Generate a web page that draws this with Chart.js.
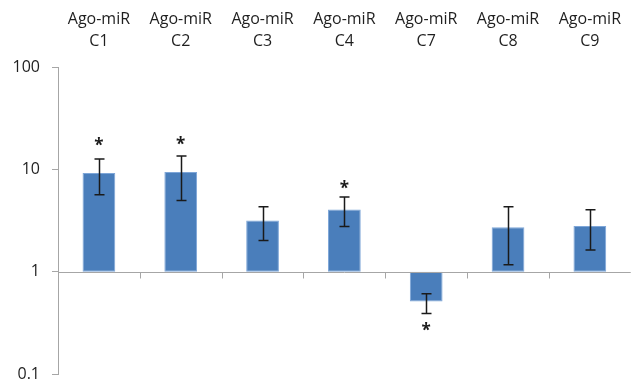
<!DOCTYPE html>
<html>
<head>
<meta charset="utf-8">
<script src="https://cdn.jsdelivr.net/npm/chart.js@4.4.1/dist/chart.umd.min.js"></script>
<style>
  html, body { margin: 0; padding: 0; background: #ffffff; }
  #wrap { width: 635px; height: 382px; position: relative; }
</style>
</head>
<body>
<div id="wrap"><canvas id="chart"></canvas></div>
<script>
// Dados (escala log, base em 1)
const categorias = [['Ago-miR', 'C1'], ['Ago-miR', 'C2'], ['Ago-miR', 'C3'], ['Ago-miR', 'C4'],
                    ['Ago-miR', 'C7'], ['Ago-miR', 'C8'], ['Ago-miR', 'C9']];
const valores   = [9.2, 9.4, 3.17, 4.05, 0.51, 2.71, 2.79];
const erroAlto  = [12.6, 13.5, 4.31, 5.36, 0.61, 4.31, 4.03];
const erroBaixo = [5.64, 4.96, 2.02, 2.77, 0.39, 1.17, 1.63];
// posição (em valor do eixo) dos asteriscos de significância; null = sem marca
const asteriscos = [18.3, 19.0, null, 7.06, 0.29, null, null];
const yTicks = [0.1, 1, 10, 100];

const corEixo = '#a6a6a6';
const corTexto = '#1f1f1f';

// barras flutuantes partindo de 1
const barras = valores.map(v => [1, v]);

// Plugin: linha base em y=1, barras de erro e asteriscos
const extras = {
    id: 'extras',
    afterDatasetsDraw(chart) {
        const ctx = chart.ctx;
        const x = chart.scales.x;
        const y = chart.scales.y;
        const area = chart.chartArea;
        const meta = chart.getDatasetMeta(0);

        ctx.save();
        // linha do eixo horizontal em 1
        const y1 = Math.round(y.getPixelForValue(1)) + 0.5;
        ctx.strokeStyle = corEixo;
        ctx.lineWidth = 1;
        ctx.beginPath();
        ctx.moveTo(area.left, y1);
        ctx.lineTo(area.right, y1);
        // marcas entre categorias
        for (let i = 1; i < categorias.length; i++) {
            const px = Math.round((x.getPixelForValue(i - 1) + x.getPixelForValue(i)) / 2) + 0.5;
            ctx.moveTo(px, y1);
            ctx.lineTo(px, y1 + 6);
        }
        ctx.stroke();

        // barras de erro
        ctx.strokeStyle = '#1a1a1a';
        ctx.lineWidth = 1.5;
        meta.data.forEach((bar, i) => {
            const cx = Math.round(bar.x) + 0.5;
            const top = y.getPixelForValue(erroAlto[i]);
            const bot = y.getPixelForValue(erroBaixo[i]);
            ctx.beginPath();
            ctx.moveTo(cx, top);
            ctx.lineTo(cx, bot);
            ctx.moveTo(cx - 5, top);
            ctx.lineTo(cx + 5, top);
            ctx.moveTo(cx - 5, bot);
            ctx.lineTo(cx + 5, bot);
            ctx.stroke();
        });

        // asteriscos
        ctx.fillStyle = '#1a1a1a';
        ctx.font = 'bold 17px "Open Sans", sans-serif';
        ctx.textAlign = 'center';
        ctx.textBaseline = 'middle';
        meta.data.forEach((bar, i) => {
            if (asteriscos[i] == null) return;
            ctx.fillText('*', bar.x, y.getPixelForValue(asteriscos[i]) + 4);
        });
        ctx.restore();
    }
};

new Chart(document.getElementById('chart'), {
    type: 'bar',
    data: {
        labels: categorias,
        datasets: [{
            data: barras,
            backgroundColor: '#4a7ebb',
            borderColor: '#7ea6d8',
            borderWidth: 1,
            borderSkipped: false,
            categoryPercentage: 1.0,
            barPercentage: 0.4
        }]
    },
    options: {
        responsive: true,
        maintainAspectRatio: false,
        animation: false,
        events: [],
        layout: { padding: { left: 0, right: 0, top: 0, bottom: 8 } },
        plugins: {
            legend: { display: false },
            tooltip: { enabled: false }
        },
        scales: {
            x: {
                position: 'top',
                grid: { display: false, drawTicks: false },
                border: { display: false },
                ticks: {
                    color: corTexto,
                    font: { family: '"Open Sans", sans-serif', size: 16, lineHeight: 1.4 },
                    padding: 14,
                    maxRotation: 0,
                    autoSkip: false
                },
                afterFit(scale) { scale.height = 67; }
            },
            y: {
                type: 'logarithmic',
                min: 0.1,
                max: 100,
                afterBuildTicks(scale) {
                    scale.ticks = yTicks.map(v => ({ value: v }));
                },
                ticks: {
                    color: corTexto,
                    font: { family: '"Open Sans", sans-serif', size: 16 },
                    padding: 12,
                    callback: v => String(v)
                },
                grid: {
                    drawOnChartArea: false,
                    tickLength: 6,
                    color: corEixo
                },
                border: { display: true, color: corEixo },
                afterFit(scale) {
                    scale.width = 58;
                    scale.paddingTop = 0;
                    scale.paddingBottom = 0;
                }
            }
        }
    },
    plugins: [extras]
});
</script>
</body>
</html>
